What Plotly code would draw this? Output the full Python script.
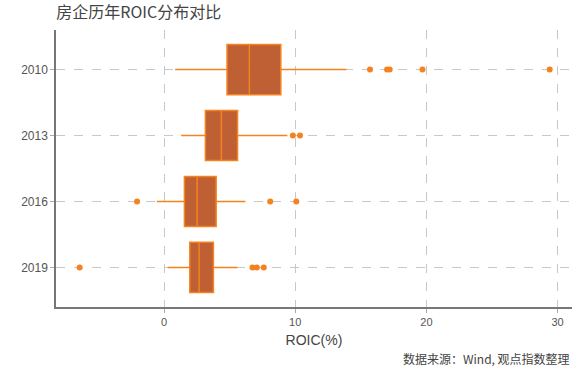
import plotly.graph_objects as go

years = ["2010", "2013", "2016", "2019"]
q1 = [4.8, 3.15, 1.55, 1.96]
median = [6.5, 4.37, 2.52, 2.67]
q3 = [8.9, 5.6, 3.97, 3.76]
lowerfence = [0.84, 1.3, -0.56, 0.28]
upperfence = [13.9, 9.4, 6.2, 5.6]

outlier_year = ["2010", "2010", "2010", "2010", "2010",
                "2013", "2013",
                "2016", "2016", "2016",
                "2019", "2019", "2019", "2019"]
outlier_val = [15.7, 17.0, 17.2, 19.7, 29.4,
               9.82, 10.36,
               -2.06, 8.09, 10.08,
               -6.44, 6.74, 7.07, 7.6]

ORANGE = "#F5821F"
FILL = "#BE6034"
FONT = "Liberation Sans, Arial, sans-serif"

fig = go.Figure()
fig.add_trace(go.Box(
    y=years, q1=q1, median=median, q3=q3,
    lowerfence=lowerfence, upperfence=upperfence,
    orientation="h", fillcolor=FILL,
    line=dict(color=ORANGE, width=1.5), whiskerwidth=0,
    width=0.76, boxpoints=False, showlegend=False, hoverinfo="x",
))
fig.add_trace(go.Scatter(
    x=outlier_val, y=outlier_year, mode="markers",
    marker=dict(color=ORANGE, size=6), showlegend=False,
))

fig.update_layout(
    width=580, height=367,
    margin=dict(l=56, r=8, t=30, b=60),
    paper_bgcolor="white", plot_bgcolor="white",
    font=dict(family=FONT, color="#555555"),
    title=dict(text="房企历年ROIC分布对比", x=0.097, xanchor="left",
               xref="container", y=0.965, yanchor="middle", yref="container",
               font=dict(family="Noto Sans CJK SC, sans-serif", size=16, color="#444444")),
    xaxis=dict(range=[-8.24, 31.1], tickvals=[0, 10, 20, 30],
               showgrid=True, gridcolor="#C8C8C8", griddash="dash", gridwidth=1,
               zeroline=False, showline=True, linecolor="#777777", linewidth=1.5,
               ticks="outside", ticklen=4, tickcolor="#AAAAAA",
               tickfont=dict(size=11, color="#555555"),
               title=dict(text="ROIC(%)", font=dict(size=14, color="#444444"), standoff=8)),
    yaxis=dict(type="category", categoryorder="array", categoryarray=years,
               range=[3.6, -0.6],
               showgrid=True, gridcolor="#C8C8C8", griddash="dash", gridwidth=1,
               zeroline=False, showline=True, linecolor="#777777", linewidth=1.5,
               ticks="outside", ticklen=4, tickcolor="#AAAAAA",
               tickfont=dict(size=12, color="#555555")),
    annotations=[dict(text="数据来源：Wind, 观点指数整理", xref="paper", yref="paper",
                      x=1.0, y=-0.17, xanchor="right", yanchor="middle",
                      yshift=-4,
                      showarrow=False,
                      font=dict(family="Noto Sans CJK SC, sans-serif", size=12, color="#444444"))],
)

fig.write_html("out.html")
